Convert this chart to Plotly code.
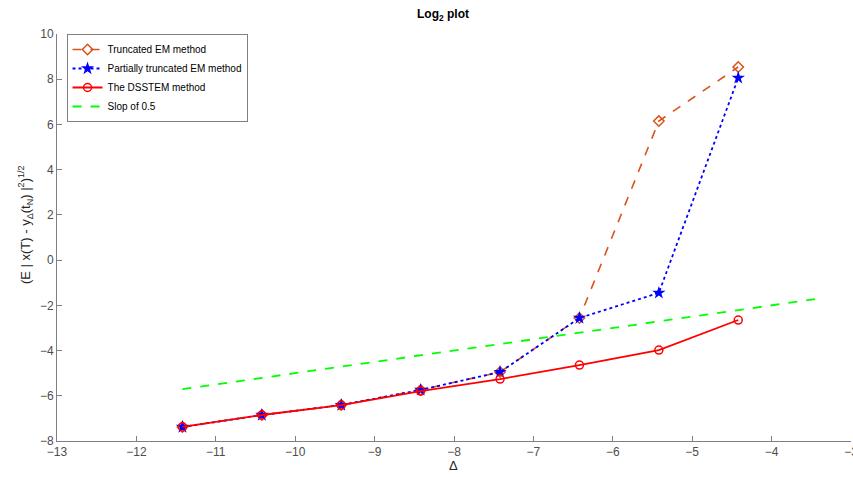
import plotly.graph_objects as go

x_vals = [-11.42, -10.42, -9.42, -8.42, -7.42, -6.42, -5.42, -4.42]
truncated_em = [-7.38, -6.85, -6.41, -5.74, -4.95, -2.56, 6.15, 8.54]
partially_truncated_em = [-7.38, -6.85, -6.41, -5.74, -4.95, -2.56, -1.45, 8.06]
dsstem = [-7.38, -6.85, -6.41, -5.79, -5.26, -4.64, -3.98, -2.65]
slope_x = [-11.42, -3.42]
slope_y = [-5.71, -1.71]
x_ticks = [-13, -12, -11, -10, -9, -8, -7, -6, -5, -4, -3]
y_ticks = [-8, -6, -4, -2, 0, 2, 4, 6, 8, 10]

font_family = "Liberation Sans, Arial, sans-serif"
fig = go.Figure()
fig.add_trace(go.Scatter(
    x=x_vals, y=truncated_em, mode="lines+markers", name="Truncated EM method",
    line=dict(color="#D95319", width=1.6, dash="dash"),
    marker=dict(symbol="diamond-open", size=8, color="#D95319", line=dict(width=1.5))))
fig.add_trace(go.Scatter(
    x=x_vals, y=partially_truncated_em, mode="lines+markers", name="Partially truncated EM method",
    line=dict(color="#0000FF", width=1.8, dash="dot"),
    marker=dict(symbol="star", size=10, color="#0000FF")))
fig.add_trace(go.Scatter(
    x=x_vals, y=dsstem, mode="lines+markers", name="The DSSTEM method",
    line=dict(color="#FF0000", width=1.8),
    marker=dict(symbol="circle-open", size=8, color="#FF0000", line=dict(width=1.5))))
fig.add_trace(go.Scatter(
    x=slope_x, y=slope_y, mode="lines", name="Slop of 0.5",
    line=dict(color="#00FF00", width=1.8, dash="dash")))

axis_common = dict(
    showgrid=False, zeroline=False, showline=True, linecolor="#808080", linewidth=1,
    ticks="inside", ticklen=5, tickcolor="#808080", mirror=False, automargin=False,
    ticklabeloverflow="allow",
    tickfont=dict(family=font_family, size=12, color="#4D4D4D"))

fig.update_layout(
    width=853, height=477,
    margin=dict(l=57, r=2, t=34, b=36),
    paper_bgcolor="white", plot_bgcolor="white",
    font=dict(family=font_family, color="#262626"),
    xaxis=dict(range=[-13, -3], tickmode="array", tickvals=x_ticks, **axis_common),
    yaxis=dict(range=[-8, 10], tickmode="array", tickvals=y_ticks, **axis_common),
    legend=dict(x=0.012, y=1.0, xanchor="left", yanchor="top", bgcolor="white",
                bordercolor="#808080", borderwidth=1, font=dict(size=10, color="#000000"),
                itemwidth=30, tracegroupgap=0),
    showlegend=True,
    annotations=[
        dict(text="<b>Log<sub>2</sub> plot</b>", xref="paper", yref="paper", x=0.486, y=1.047,
             xanchor="center", yanchor="middle", showarrow=False,
             font=dict(size=12, color="#000000")),
        dict(text="Δ", xref="paper", yref="paper", x=0.499, y=-0.061,
             xanchor="center", yanchor="middle", showarrow=False,
             font=dict(size=13, color="#262626")),
        dict(text="(E | x(T) - y<sub>Δ</sub>(t<sub>N</sub>) |<sup>2</sup>)<sup>1/2</sup>",
             xref="paper", yref="paper", x=-0.040, y=0.531, textangle=-90,
             xanchor="center", yanchor="middle", showarrow=False,
             font=dict(size=13, color="#262626")),
    ],
)

fig.write_html("out.html", config={"displayModeBar": False},
               post_script="document.body.style.margin='0';document.body.style.overflow='hidden';")
